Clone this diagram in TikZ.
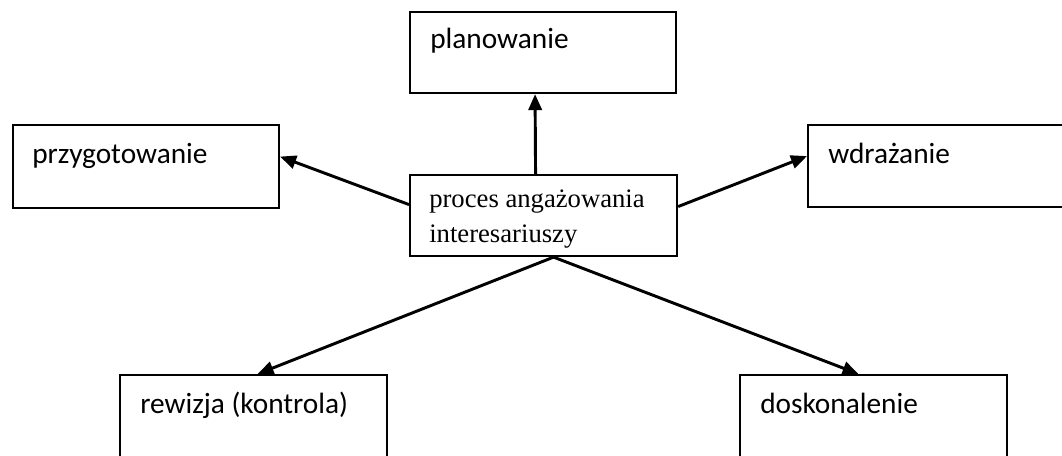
\documentclass[tikz,border=0pt]{standalone}
\usepackage{fontspec}
\setmainfont{Carlito}
\newfontfamily\tnr{Liberation Serif}
\usetikzlibrary{arrows.meta}
\begin{document}
\begin{tikzpicture}[x=0.75pt,y=-0.75pt,
  box/.style={draw=black,line width=1.6pt,inner sep=0pt},
  lbl/.style={anchor=base west,inner sep=0pt,font=\fontsize{22}{26}\selectfont},
  serif/.style={anchor=base west,inner sep=0pt,font=\tnr\fontsize{20}{26.5}\selectfont},
  arr/.style={line width=2.2pt,-{Triangle[length=12pt,width=10pt]}}]
\useasboundingbox (0,0) rectangle (1062,455);
\clip (0,0) rectangle (1062,455);
% boxes
\node[box,minimum width=266*0.75pt,minimum height=81*0.75pt,anchor=north west] (plan) at (409,11) {};
\node[box,minimum width=266*0.75pt,minimum height=83*0.75pt,anchor=north west] (przy) at (12,124) {};
\node[box,minimum width=280*0.75pt,minimum height=82*0.75pt,anchor=north west] (wdr) at (807,124) {};
\node[box,minimum width=267*0.75pt,minimum height=81*0.75pt,anchor=north west] (proc) at (409,174) {};
\node[box,minimum width=267*0.75pt,minimum height=110*0.75pt,anchor=north west] (rew) at (119,374) {};
\node[box,minimum width=267*0.75pt,minimum height=110*0.75pt,anchor=north west] (dosk) at (739,374) {};
% labels
\node[lbl] (tplan) at (430,48) {planowanie};
\node[lbl] (tprzy) at (32,163) {przygotowanie};
\node[lbl] (twdr) at (828,163) {wdrażanie};
\node[lbl] (trew) at (140,413) {rewizja (kontrola)};
\node[lbl] (tdosk) at (760,413) {doskonalenie};
\node[serif] (tproc1) at (429,207) {proces angażowania};
\node[serif] (tproc2) at (429,242) {interesariuszy};
% arrows
\draw[arr] ([xshift=-8*0.75pt]proc.north) -- ([xshift=-8*0.75pt]plan.south);
\draw[arr] ([yshift=11*0.75pt]proc.west) -- ([yshift=10*0.75pt]przy.east);
\draw[arr] ([yshift=9*0.75pt]proc.east) -- ([yshift=10*0.75pt]wdr.west);
\draw[arr] ([xshift=10*0.75pt]proc.south) -- ([xshift=4*0.75pt]rew.north);
\draw[arr] ([xshift=10*0.75pt]proc.south) -- ([xshift=-15*0.75pt]dosk.north);
\end{tikzpicture}
\end{document}
